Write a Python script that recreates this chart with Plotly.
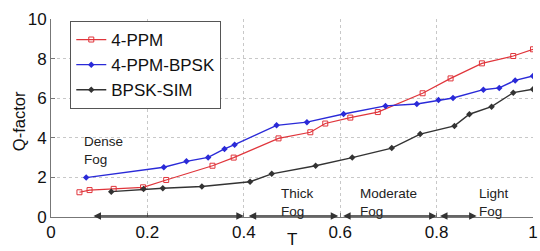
import plotly.graph_objects as go

ppm_x = [0.059, 0.080, 0.130, 0.191, 0.239, 0.335, 0.379, 0.472, 0.538, 0.569, 0.621, 0.678, 0.771, 0.829, 0.894, 0.959, 1.0]
ppm_y = [1.25, 1.36, 1.42, 1.50, 1.87, 2.59, 3.00, 3.97, 4.28, 4.72, 5.02, 5.30, 6.25, 7.00, 7.76, 8.13, 8.47]

bpsk4_x = [0.073, 0.234, 0.281, 0.326, 0.360, 0.381, 0.468, 0.531, 0.607, 0.694, 0.759, 0.804, 0.834, 0.897, 0.930, 0.963, 1.0]
bpsk4_y = [1.99, 2.51, 2.81, 3.01, 3.44, 3.65, 4.63, 4.79, 5.20, 5.61, 5.71, 5.91, 6.01, 6.43, 6.52, 6.90, 7.12]

sim_x = [0.125, 0.192, 0.232, 0.313, 0.413, 0.458, 0.549, 0.625, 0.707, 0.766, 0.837, 0.868, 0.914, 0.959, 1.0]
sim_y = [1.28, 1.41, 1.45, 1.54, 1.78, 2.18, 2.59, 3.00, 3.48, 4.19, 4.60, 5.19, 5.57, 6.28, 6.45]

regions = ["Dense<br>Fog", "Thick<br>Fog", "Moderate<br>Fog", "Light<br>Fog"]
region_text_x = [0.065, 0.474, 0.636, 0.884]
region_text_y = [3.38, 0.73, 0.73, 0.73]
arrow_start = [0.085, 0.407, 0.603, 0.804]
arrow_end = [0.400, 0.596, 0.800, 0.883]

x_ticks = [0, 0.2, 0.4, 0.6, 0.8, 1]
x_ticktext = ["0", "0.2", "0.4", "0.6", "0.8", "1"]
y_ticks = [0, 2, 4, 6, 8, 10]

FONT = "Liberation Sans, Arial, sans-serif"

fig = go.Figure()
fig.add_trace(go.Scatter(x=ppm_x, y=ppm_y, mode="lines+markers", name="4-PPM",
                         line=dict(color="#e0353b", width=1.2),
                         marker=dict(symbol="square-open", size=5, color="#e0353b", line=dict(width=1))))
fig.add_trace(go.Scatter(x=bpsk4_x, y=bpsk4_y, mode="lines+markers", name="4-PPM-BPSK",
                         line=dict(color="#2a2ad8", width=1.4),
                         marker=dict(symbol="diamond", size=5, color="#2a2ad8")))
fig.add_trace(go.Scatter(x=sim_x, y=sim_y, mode="lines+markers", name="BPSK-SIM",
                         line=dict(color="#333333", width=1.4),
                         marker=dict(symbol="diamond", size=5, color="#333333")))

annotations = []
for t, tx, ty in zip(regions, region_text_x, region_text_y):
    annotations.append(dict(x=tx, y=ty, xref="x", yref="y", text=t, showarrow=False,
                            xanchor="left", yanchor="middle", align="left",
                            font=dict(family=FONT, size=13.5, color="#222")))
for a0, a1 in zip(arrow_start, arrow_end):
    annotations.append(dict(x=a1, y=0.05, ax=a0, ay=0.05, xref="x", yref="y", axref="x", ayref="y",
                            text="", showarrow=True, arrowhead=2, startarrowhead=2,
                            arrowside="end+start", arrowsize=1, arrowwidth=1.5, arrowcolor="#333"))
# axis titles
annotations.append(dict(x=0.5, y=-0.116, xref="paper", yref="paper", text="T", showarrow=False,
                        xanchor="center", yanchor="middle", font=dict(family=FONT, size=17, color="#111")))
annotations.append(dict(x=-0.066, y=0.485, xref="paper", yref="paper", text="Q-factor", showarrow=False,
                        textangle=-90, xanchor="center", yanchor="middle",
                        font=dict(family=FONT, size=16.5, color="#111")))

fig.update_layout(
    width=540, height=251,
    margin=dict(l=51, r=7, t=19, b=34),
    paper_bgcolor="white", plot_bgcolor="white",
    font=dict(family=FONT, size=17, color="#111"),
    showlegend=True,
    legend=dict(x=0.04, y=0.99, xanchor="left", yanchor="top",
                bgcolor="white", bordercolor="#555", borderwidth=1,
                font=dict(family=FONT, size=17, color="#111"),
                itemwidth=30, tracegroupgap=0),
    annotations=annotations,
)
fig.update_xaxes(range=[0, 1], tickvals=x_ticks, ticktext=x_ticktext, automargin=False,
                 showgrid=True, gridcolor="#c8c8c8", griddash="dot", gridwidth=1,
                 showline=True, linecolor="#777", linewidth=1, ticks="inside", ticklen=4, tickcolor="#777",
                 zeroline=False, tickfont=dict(size=17))
fig.update_yaxes(range=[0, 10], tickvals=y_ticks, automargin=False,
                 showgrid=True, gridcolor="#c8c8c8", griddash="dot", gridwidth=1,
                 showline=True, linecolor="#777", linewidth=1, ticks="inside", ticklen=4, tickcolor="#777",
                 zeroline=False, tickfont=dict(size=17))

fig.write_html("out.html", config={"displayModeBar": False},
               post_script="document.body.style.margin='0';")
